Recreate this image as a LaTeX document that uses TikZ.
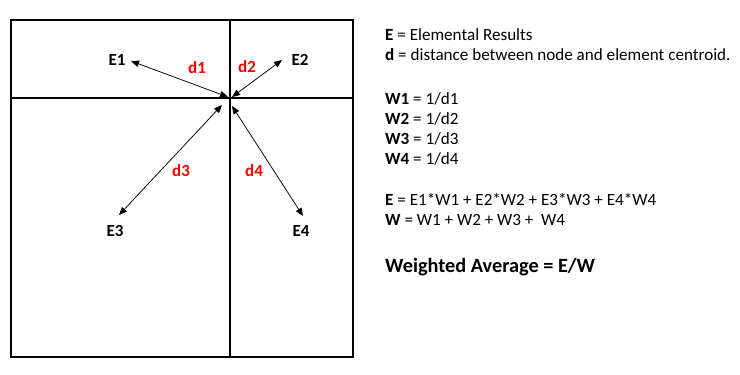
\documentclass[tikz,border=0pt]{standalone}
\usepackage{fontspec}
\setmainfont{Carlito}
\usetikzlibrary{arrows.meta}
\definecolor{lblred}{RGB}{255,0,0}
\tikzset{
  grid/.style={line width=2pt, line cap=rect},
  dist/.style={line width=0.75pt, {Triangle[length=8pt,width=6.5pt]}-{Triangle[length=8pt,width=6.5pt]}},
  elab/.style={font=\fontsize{17}{20}\selectfont\bfseries, inner sep=0pt},
  dlab/.style={font=\fontsize{17}{20}\selectfont\bfseries, text=lblred, inner sep=0pt},
  txt/.style={font=\fontsize{17.1}{20}\selectfont, anchor=base west, inner sep=0pt},
  big/.style={font=\fontsize{20.3}{24}\selectfont\bfseries, anchor=base west, inner sep=0pt}
}
\begin{document}
\begin{tikzpicture}[x=1pt,y=-1pt]
\useasboundingbox (0,0) rectangle (740,375);
% mesh
\draw[grid] (11,20) rectangle (353,357);
\draw[grid] (230,20) -- (230,357);
\draw[grid] (11,98) -- (353,98);
% labels
\node[elab] (E1) at (117,60) {E1};
\node[elab] (E2) at (300,60) {E2};
\node[elab] (E3) at (115,231) {E3};
\node[elab] (E4) at (301,231) {E4};
\node[dlab] (d1) at (197,68) {d1};
\node[dlab] (d2) at (247,67) {d2};
\node[dlab] (d3) at (181,171) {d3};
\node[dlab] (d4) at (254,171) {d4};
% arrow end points
\coordinate (a1) at (131,61);  \coordinate (c1) at (228,97);
\coordinate (a2) at (282,60);  \coordinate (c2) at (232,97);
\coordinate (a3) at (119,215); \coordinate (c3) at (222,105);
\coordinate (a4) at (303,216); \coordinate (c4) at (232,106);
\draw[dist] (a1) -- (c1);
\draw[dist] (c2) -- (a2);
\draw[dist] (c3) -- (a3);
\draw[dist] (c4) -- (a4);
% text
\node[txt] (t1) at (385,40) {\textbf{E} = Elemental Results};
\node[txt] (t2) at (385,60) {\textbf{d} = distance between node and element centroid.};
\node[txt] (t3) at (385,104) {\textbf{W1} = 1/d1};
\node[txt] (t4) at (385,124) {\textbf{W2} = 1/d2};
\node[txt] (t5) at (385,144) {\textbf{W3} = 1/d3};
\node[txt] (t6) at (385,164) {\textbf{W4} = 1/d4};
\node[txt] (t7) at (385,205) {\textbf{E} = E1*W1 + E2*W2 + E3*W3 + E4*W4};
\node[txt] (t8) at (385,225) {\textbf{W} = W1 + W2 + W3 +\ \ W4};
\node[big] (t9) at (385,272) {Weighted Average = E/W};
\end{tikzpicture}
\end{document}
